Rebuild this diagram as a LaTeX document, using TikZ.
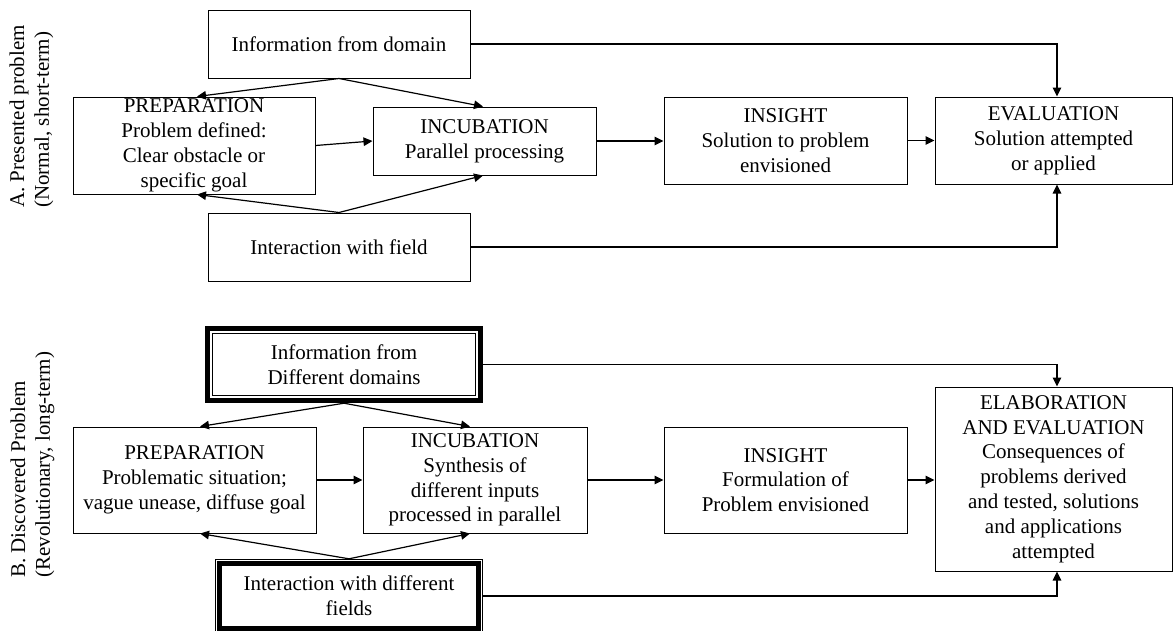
\documentclass[tikz,border=0pt]{standalone}
\usepackage{fontspec}
\setmainfont{Liberation Serif}
\usetikzlibrary{arrows.meta}
\tikzset{
  txt/.style={font=\fontsize{21pt}{24.8pt}\selectfont},
  box/.style={txt, draw, line width=1pt, align=center, inner sep=0pt},
  dbox/.style={txt, align=center, inner sep=0pt},
  arr/.style={line width=1.2pt, -{Triangle[length=9pt,width=8.5pt]}},
  lbl/.style={txt, rotate=90, align=left, anchor=west, inner sep=0pt}
}
\begin{document}
\begin{tikzpicture}[x=1pt,y=-1pt]
\clip (0,0) rectangle (1173,630);
\fill[white] (0,0) rectangle (1173,630);

% labels
\node[lbl] (la) at (31.5,208) {A. Presented problem\\(Normal, short-term)};
\node[lbl] (lb) at (32.5,578) {B. Discovered Problem\\(Revolutionary, long-term)};

% Part A
\node[box, minimum width=262, minimum height=68] (IA) at (339,44) {Information from domain};
\node[box, minimum width=242, minimum height=97] (PA) at (194,145.5) {PREPARATION\\Problem defined:\\Clear obstacle or\\specific goal};
\node[box, minimum width=223, minimum height=68] (CA) at (484.5,141) {INCUBATION\\Parallel processing};
\node[box, minimum width=243, minimum height=87] (SA) at (785.5,140.5) {INSIGHT\\Solution to problem\\envisioned};
\node[box, minimum width=237, minimum height=87] (EA) at (1053.5,140.5) {EVALUATION\\Solution attempted\\or applied};
\node[box, minimum width=262, minimum height=68] (XA) at (339,247) {Interaction with field};

\draw[arr] (IA.south) -- ([xshift=3pt]PA.north);
\draw[arr] (IA.south) -- ([xshift=-1.5pt]CA.north);
\draw[arr] (XA.north) -- ([xshift=3pt]PA.south);
\draw[arr] (XA.north) -- ([xshift=-1.5pt]CA.south);
\draw[arr] (PA.east) -- (CA.west);
\draw[arr] (CA.east) -- (CA.east -| SA.west);
\draw[arr] (SA.east) -- (SA.east -| EA.west);
\draw[arr] (IA.east) -| ([xshift=3.5pt]EA.north);
\draw[arr] (XA.east) -| ([xshift=3.5pt]EA.south);

% Part B
\node[dbox, minimum width=278, minimum height=77] (IB) at (344,364.5) {Information from\\Different domains};
\draw[line width=5pt] ([shift={(2.5,2.5)}]IB.north west) rectangle ([shift={(-2.5,-2.5)}]IB.south east);
\draw[line width=1pt] ([shift={(7.5,7.5)}]IB.north west) rectangle ([shift={(-7.5,-7.5)}]IB.south east);

\node[box, minimum width=243, minimum height=106] (PB) at (194.5,480) {PREPARATION\\Problematic situation;\\vague unease, diffuse goal};
\node[box, minimum width=224, minimum height=106] (CB) at (475,480) {INCUBATION\\Synthesis of\\different inputs\\processed in parallel};
\node[box, minimum width=243, minimum height=106] (SB) at (785.5,480) {INSIGHT\\Formulation of\\Problem envisioned};
\node[box, minimum width=237, minimum height=184] (EB) at (1053.5,479) {ELABORATION\\AND EVALUATION\\Consequences of\\problems derived\\and tested, solutions\\and applications\\attempted};

\node[dbox, minimum width=268, minimum height=74] (XB) at (349,596) {Interaction with different\\fields};
\draw[line width=1pt] ([shift={(0.5,0.5)}]XB.north west) rectangle ([shift={(-0.5,-0.5)}]XB.south east);
\draw[line width=5pt] ([shift={(4.5,4.5)}]XB.north west) rectangle ([shift={(-4.5,-4.5)}]XB.south east);

\draw[arr] (IB.south) -- ([xshift=5.5pt]PB.north);
\draw[arr] (IB.south) -- ([xshift=-5pt]CB.north);
\draw[arr] (XB.north) -- ([xshift=5.5pt]PB.south);
\draw[arr] (XB.north) -- ([xshift=-5pt]CB.south);
\draw[arr] (PB.east) -- (CB.west);
\draw[arr] (CB.east) -- (SB.west);
\draw[arr] (SB.east) -- (SB.east -| EB.west);
\draw[arr] (IB.east) -| ([xshift=3.5pt]EB.north);
\draw[arr] (XB.east) -| ([xshift=3.5pt]EB.south);
\end{tikzpicture}
\end{document}
